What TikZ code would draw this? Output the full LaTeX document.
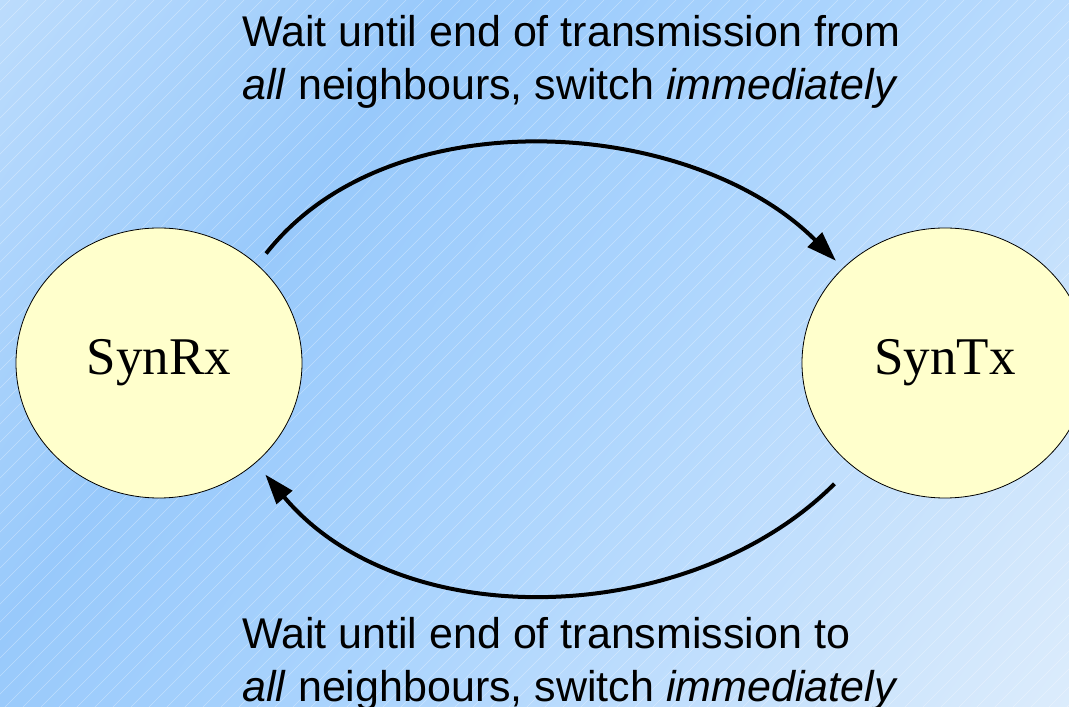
\documentclass[tikz,border=0pt]{standalone}
\usepackage{fontspec}
\setmainfont{Liberation Serif}
\newfontfamily\labelfont{Liberation Sans}
\usepackage{xcolor}
\definecolor{bgtop}{RGB}{188,220,252}
\definecolor{bgmid}{RGB}{152,201,251}
\definecolor{bgcen}{RGB}{171,212,253}
\definecolor{bgend}{RGB}{220,236,252}
\definecolor{statefill}{RGB}{255,255,204}
\usepackage{tikz}
\usetikzlibrary{arrows.meta,positioning,shapes.geometric}
\pgfdeclarehorizontalshading{bgshade}{100bp}{color(0bp)=(bgtop); color(15bp)=(bgtop);%
  color(35bp)=(bgmid); color(53bp)=(bgcen); color(85bp)=(bgend); color(100bp)=(bgend)}
\tikzset{
  statenode/.style={ellipse,draw=black,line width=0.8pt,fill=statefill,%
    minimum width=286pt,minimum height=270pt,inner sep=0pt,%
    font=\fontsize{53}{60}\selectfont},
  lbl/.style={font=\labelfont\fontsize{43}{53}\selectfont,align=left,inner sep=0pt},
  flow/.style={-{Triangle[length=30pt,width=20pt]},line width=4pt,draw=black},
  hatch/.style={draw=white,opacity=0.35,line width=0.6pt},
}

\begin{document}
\begin{tikzpicture}[x=1pt,y=1pt]
\useasboundingbox (0,0) rectangle (1069,707);
% background with fine diagonal lines
\shade[shading=bgshade,shading angle=-35] (0,0) rectangle (1069,707);
\begin{scope}
  \clip (0,0) rectangle (1069,707);
  \foreach \c in {-697,-679,...,1069}
    \draw[hatch] (\c,0) -- ++(707,707);
\end{scope}
\node[statenode] (rx) at (159,344) {SynRx};
\node[statenode] (tx) at (945,344) {SynTx};
\draw[flow,shorten <=14pt,shorten >=10pt] (rx.45) .. controls +(52:214) and +(135:214) .. (tx.137);
\draw[flow,shorten <=25pt,shorten >=15pt] (tx.228) .. controls +(225:228) and +(-50:228) .. (rx.-46);
\node[lbl,anchor=north west] (txlbl) at (242,692)
  {Wait until end of transmission from\\\textit{all} neighbours, switch \textit{immediately}};
\node[lbl,anchor=north west] (rxlbl) at (242,90)
  {Wait until end of transmission to\\\textit{all} neighbours, switch \textit{immediately}};
\end{tikzpicture}
\end{document}
